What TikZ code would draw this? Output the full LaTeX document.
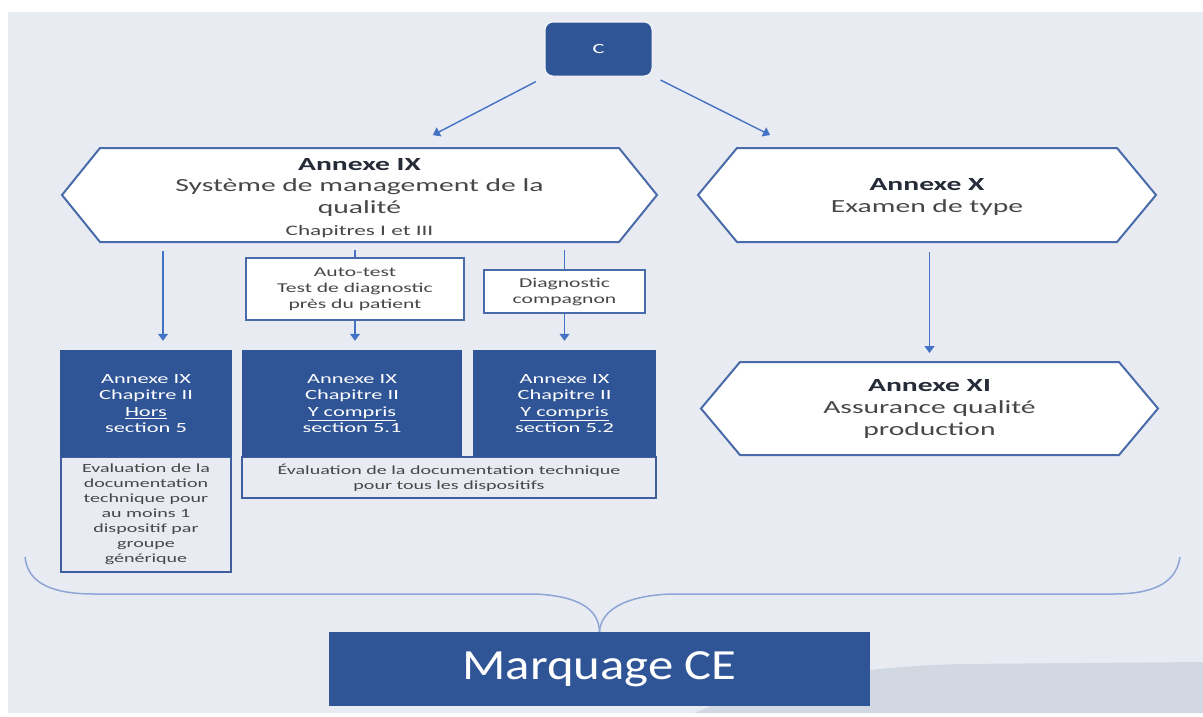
\documentclass[tikz,border=0pt]{standalone}
\usepackage{fontspec}
\setmainfont{Carlito}
\newfontfamily\widefont[FakeStretch=1.6]{Carlito}
\newfontfamily\cefont[FakeStretch=1.18]{Carlito}
\usetikzlibrary{arrows.meta}
\pgfdeclarelayer{back}
\pgfsetlayers{back,main}
\definecolor{panel}{HTML}{E8EBF2}
\definecolor{navy}{HTML}{2F5597}
\definecolor{framecol}{HTML}{4A6BAA}
\definecolor{notecol}{HTML}{3F5E9E}
\definecolor{arrowblue}{HTML}{4472C4}
\definecolor{bracecol}{HTML}{8EA5D6}
\definecolor{txt}{HTML}{474747}
\definecolor{txtdark}{HTML}{262B38}
\definecolor{slidegrey}{HTML}{D2D8E2}

% hexagonal frame around an (invisible) rectangular node, drawn behind it
\newcommand\hexframe[2]{%
  \begin{pgfonlayer}{back}
    \draw[hexline] (#1.west) -- ([xshift=#2]#1.north west) -- ([xshift=-#2]#1.north east)
      -- (#1.east) -- ([xshift=-#2]#1.south east) -- ([xshift=#2]#1.south west) -- cycle;
  \end{pgfonlayer}}

\begin{document}
\begin{tikzpicture}[x=1pt,y=-1pt,
  hexarea/.style={inner sep=0pt,outer sep=0pt},
  hexline/.style={draw=framecol,line width=2pt,fill=white,line join=miter},
  hextext/.style={align=center,text=txt,inner sep=0pt,font=\widefont\fontsize{18.5}{21.7}\selectfont},
  navybox/.style={fill=navy,text=white,inner sep=0pt,align=center,font=\widefont\fontsize{14}{16.5}\selectfont},
  notebox/.style={draw=notecol,line width=1.6pt,inner sep=0pt,align=center,text=txt,font=\widefont\fontsize{12.5}{15}\selectfont},
  tagbox/.style={draw=framecol,line width=1.6pt,fill=white,inner sep=0pt,align=center,text=txt,font=\widefont\fontsize{13.5}{16}\selectfont},
  arr/.style={draw=arrowblue,line width=1.4pt,-{Triangle[width=10pt,length=7pt]}},
  link/.style={draw=arrowblue,line width=1.4pt},
  bracecurve/.style={draw=bracecol,line width=1.5pt}]

% page and slide background
\begin{pgfonlayer}{back}
  \fill[white] (0,0) rectangle (1203,716);
  \fill[panel] (8,12) rectangle (1203,713);
  \fill[slidegrey] (695,713) .. controls (760,684) and (850,667) .. (960,664) -- (1203,662) -- (1203,713) -- cycle;
\end{pgfonlayer}
\useasboundingbox (0,0) rectangle (1203,716);

% top box
\node[fill=navy,draw=white!60!panel,line width=1pt,rounded corners=8pt,minimum width=107pt,minimum height=54pt,
      text=white,font=\widefont\fontsize{14}{16}\selectfont] (C) at (598.5,49) {C};

% quality-management branch
\node[hexarea,minimum width=595pt,minimum height=94pt] (IX) at (359.5,195) {};
\hexframe{IX}{38pt}
\node[hextext] (IXt) at (359.5,198) {\textcolor{txtdark}{\bfseries Annexe IX}\\Système de management de la\\qualité\\{\fontsize{14.5}{21.7}\selectfont Chapitres I et III}};

% type-examination branch
\node[hexarea,minimum width=458pt,minimum height=94pt] (X) at (927,195) {};
\hexframe{X}{39pt}
\node[hextext] (Xt) at (927,197) {\textcolor{txtdark}{\bfseries Annexe X}\\Examen de type};

\node[hexarea,minimum width=457pt,minimum height=93pt] (XI) at (929.5,408.5) {};
\hexframe{XI}{39pt}
\node[hextext] (XIt) at (929.5,409) {\textcolor{txtdark}{\bfseries Annexe XI}\\Assurance qualité\\production};

% device categories
\node[tagbox,minimum width=218pt,minimum height=62pt] (AT) at (355,289) {Auto-test\\Test de diagnostic\\près du patient};
\node[tagbox,minimum width=161pt,minimum height=43pt] (DG) at (564.5,291.5) {Diagnostic\\compagnon};

% assessment notes (under the chapter boxes)
\node[notebox,minimum width=170pt,minimum height=115pt] (N1) at (146,514.5) {Evaluation de la\\documentation\\technique pour\\au moins 1\\dispositif par\\groupe\\générique};
\node[notebox,minimum width=414pt,minimum height=41pt] (N2) at (449,477.5) {Évaluation de la documentation technique\\pour tous les dispositifs};

% chapter boxes
\node[navybox,minimum width=172pt,minimum height=107pt] (B1) at (146,403.5) {Annexe IX\\Chapitre II\\\underline{Hors}\\section 5};
\node[navybox,minimum width=220pt,minimum height=107pt] (B2) at (352,403.5) {Annexe IX\\Chapitre II\\\underline{Y compris}\\section 5.1};
\node[navybox,minimum width=183pt,minimum height=107pt] (B3) at (564.5,403.5) {Annexe IX\\Chapitre II\\\underline{Y compris}\\section 5.2};

% final box
\node[fill=navy,minimum width=541pt,minimum height=74pt,text=white,
      font=\cefont\fontsize{43}{48}\selectfont] (CE) at (599.5,669) {Marquage CE};

% connectors from the top box
\coordinate (IXin) at ([xshift=48.5pt]IX.north);
\coordinate (Xin) at ([xshift=-131pt]X.north);
\draw[arr,shorten <=11pt,shorten >=28pt] (C) -- (IXin);
\draw[arr,shorten <=9pt,shorten >=29pt] (C) -- (Xin);

% connectors below the quality-management hexagon
\coordinate (B1in) at ([xshift=17pt]B1.north);
\draw[arr,shorten <=9pt,shorten >=9pt] (IX.south -| B1in) -- (B1in);
\draw[link,shorten <=8pt] (IX.south -| AT.north) -- (AT.north);
\draw[arr,shorten >=9pt] (AT.south) -- (AT.south |- B2.north);
\draw[link,shorten <=8pt] (IX.south -| DG.north) -- (DG.north);
\draw[arr,shorten >=9pt] (DG.south) -- (DG.south |- B3.north);

% connector between the two right hexagons
\draw[arr,shorten <=10pt,shorten >=9pt] (XI.north |- X.south) -- (XI.north);

% brace gathering everything into the final box
\draw[bracecurve] (25,557) .. controls (28,585) and (55,594) .. (95,594) -- (535,594)
  .. controls (580,596) and (599,610) .. (CE.north);
\draw[bracecurve] (1180,557) .. controls (1176,585) and (1150,594) .. (1113,594) -- (670,594)
  .. controls (625,596) and (601,610) .. (CE.north);
\end{tikzpicture}
\end{document}
